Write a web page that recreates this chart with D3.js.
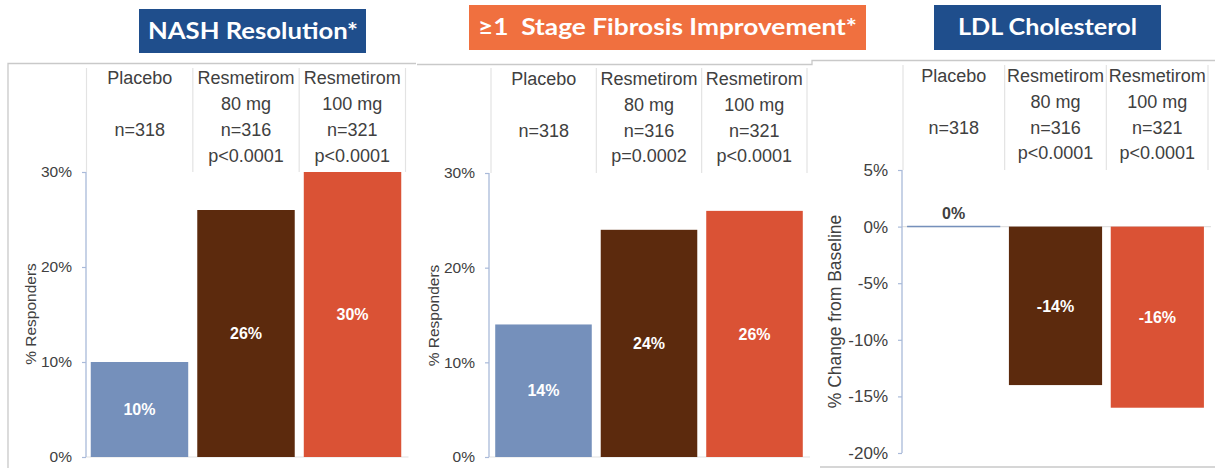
<!DOCTYPE html>
<html>
<head>
<meta charset="utf-8">
<script src="https://cdn.jsdelivr.net/npm/d3@7"></script>
<style>
  body { margin: 0; background: #fff; }
  svg { display: block; }
  text { font-family: "Liberation Sans", Arial, sans-serif; }
</style>
</head>
<body>
<svg id="chart" width="1215" height="468"></svg>
<script>
// Treatment groups shown in every panel
const groupNames = ["Placebo", "Resmetirom", "Resmetirom"];
const groupDoses = ["", "80 mg", "100 mg"];
const groupSizes = ["n=318", "n=316", "n=321"];
const groupColors = ["#7590BB", "#5C2A0D", "#DA5235"];

// NASH resolution (% responders)
const nashValues = [10, 26, 30];
const nashPValues = ["", "p<0.0001", "p<0.0001"];

// ≥1 stage fibrosis improvement (% responders)
const fibrosisValues = [14, 24, 26];
const fibrosisPValues = ["", "p=0.0002", "p<0.0001"];

// LDL cholesterol (% change from baseline)
const ldlValues = [0, -14, -16];
const ldlPValues = ["", "p<0.0001", "p<0.0001"];

// Axis ticks
const responderTicks = [0, 10, 20, 30];
const ldlTicks = [5, 0, -5, -10, -15, -20];

const panelTitles = ["NASH Resolution*", "≥1  Stage Fibrosis Improvement*", "LDL Cholesterol"];
const yTitles = ["% Responders", "% Responders", "% Change from Baseline"];

// Layout of each panel
const panels = [
  {
    values: nashValues, pValues: nashPValues, ticks: responderTicks, domain: [0, 30],
    yRange: [457, 172], band: [86.5, 405.5], axisX: 86,
    header: [68, 172], rows: [77.5, 104, 130, 155.5],
    tickFont: 15.5, yTitleFont: 15.5, yTitlePos: [30, 314],
    box: { x: 139, y: 9, w: 227, h: 44, fill: "#1F4E8C", tx: 253, ty: 39, tl: 210 }
  },
  {
    values: fibrosisValues, pValues: fibrosisPValues, ticks: responderTicks, domain: [0, 30],
    yRange: [457, 173], band: [491, 807], axisX: 489,
    header: [68, 173], rows: [78.5, 105, 131, 156],
    tickFont: 15.5, yTitleFont: 15.5, yTitlePos: [433, 315.5],
    box: { x: 469, y: 5, w: 397, h: 45, fill: "#F0703F", tx: 667.5, ty: 35, tl: 379 }
  },
  {
    values: ldlValues, pValues: ldlPValues, ticks: ldlTicks, domain: [-20, 5],
    yRange: [453, 170], band: [903, 1208], axisX: 902,
    header: [65, 170], rows: [76, 102, 128, 153],
    tickFont: 17, yTitleFont: 17.5, yTitlePos: [835, 311.5],
    box: { x: 934, y: 5, w: 227, h: 45, fill: "#1F4E8C", tx: 1047.5, ty: 35, tl: 179 }
  }
];

const svg = d3.select("#chart");
svg.append("rect").attr("width", 1215).attr("height", 468).attr("fill", "#fff");

// Panel frames
const frameColor = "#C9C9C9";
const frames = svg.append("g").attr("stroke", frameColor).attr("stroke-width", 1.3).attr("fill", "none");
frames.append("path").attr("d", "M8,468V63.5H416");
frames.append("path").attr("d", "M417,64.5H812V60.5H1215");
frames.append("path").attr("d", "M820,467H1215");

const idx = [0, 1, 2];

panels.forEach((p, pi) => {
  const g = svg.append("g");

  // Title banner
  g.append("rect")
    .attr("x", p.box.x).attr("y", p.box.y)
    .attr("width", p.box.w).attr("height", p.box.h)
    .attr("fill", p.box.fill);
  g.append("text")
    .attr("x", p.box.tx).attr("y", p.box.ty)
    .attr("text-anchor", "middle")
    .attr("fill", "#fff")
    .attr("font-weight", "bold")
    .attr("font-size", 23)
    .attr("textLength", p.box.tl)
    .attr("lengthAdjust", "spacingAndGlyphs")
    .style("font-family", "Lato, 'Open Sans', sans-serif")
    .style("white-space", "pre")
    .text(panelTitles[pi]);

  const x = d3.scaleBand().domain(idx).range(p.band).paddingInner(0.085).paddingOuter(0.04);
  const xCol = d3.scaleBand().domain(idx).range(p.band).padding(0);
  const y = d3.scaleLinear().domain(p.domain).range(p.yRange);

  // Header column dividers
  g.append("g").selectAll("line")
    .data([0, 1, 2, 3])
    .join("line")
    .attr("x1", d => d < 3 ? xCol(d) : xCol(2) + xCol.bandwidth())
    .attr("x2", d => d < 3 ? xCol(d) : xCol(2) + xCol.bandwidth())
    .attr("y1", p.header[0]).attr("y2", p.header[1])
    .attr("stroke", "#E3E3E3").attr("stroke-width", 1.2);

  // Header text rows
  const rows = [groupNames, groupDoses, groupSizes, p.pValues];
  rows.forEach((row, ri) => {
    g.append("g").selectAll("text")
      .data(idx)
      .join("text")
      .attr("x", d => xCol(d) + xCol.bandwidth() / 2)
      .attr("y", p.rows[ri])
      .attr("dy", "0.36em")
      .attr("text-anchor", "middle")
      .attr("font-size", 18)
      .attr("fill", "#404040")
      .text(d => row[d]);
  });

  // Zero baseline
  g.append("line")
    .attr("x1", p.axisX).attr("x2", p.band[1] + 3)
    .attr("y1", y(0)).attr("y2", y(0))
    .attr("stroke", "#E2E2E2").attr("stroke-width", 1.2);

  // Bars
  g.append("g").selectAll("rect")
    .data(idx.filter(d => p.values[d] !== 0))
    .join("rect")
    .attr("x", d => x(d))
    .attr("width", x.bandwidth())
    .attr("y", d => y(Math.max(0, p.values[d])))
    .attr("height", d => Math.abs(y(p.values[d]) - y(0)))
    .attr("fill", d => groupColors[d]);

  // Zero-valued groups drawn as a flat line
  g.append("g").selectAll("line")
    .data(idx.filter(d => p.values[d] === 0))
    .join("line")
    .attr("x1", d => x(d)).attr("x2", d => x(d) + x.bandwidth())
    .attr("y1", y(0)).attr("y2", y(0))
    .attr("stroke", d => groupColors[d]).attr("stroke-width", 1.5);

  // Value labels
  g.append("g").selectAll("text")
    .data(idx)
    .join("text")
    .attr("x", d => x(d) + x.bandwidth() / 2)
    .attr("y", d => p.values[d] === 0 ? y(0) - 13 : (y(p.values[d]) + y(0)) / 2)
    .attr("dy", "0.36em")
    .attr("text-anchor", "middle")
    .attr("font-size", 16)
    .attr("font-weight", "bold")
    .attr("fill", d => p.values[d] === 0 ? "#404040" : "#fff")
    .text(d => p.values[d] + "%");

  // Y axis
  const axis = g.append("g")
    .attr("transform", `translate(${p.axisX},0)`)
    .call(d3.axisLeft(y).tickValues(p.ticks).tickSize(4).tickPadding(10).tickFormat(d => d + "%"));
  axis.select(".domain")
    .attr("stroke", "#A9BAD9").attr("stroke-width", 1.3)
    .attr("d", `M0,${p.yRange[1]}V${p.yRange[0]}`);
  axis.selectAll(".tick line").attr("stroke", "#A9BAD9").attr("stroke-width", 1.2);
  axis.selectAll(".tick text")
    .attr("font-size", p.tickFont)
    .attr("fill", "#404040")
    .style("font-family", "'Liberation Sans', Arial, sans-serif");

  // Y axis title
  g.append("text")
    .attr("transform", `translate(${p.yTitlePos[0]},${p.yTitlePos[1]}) rotate(-90)`)
    .attr("text-anchor", "middle")
    .attr("dy", "0.36em")
    .attr("font-size", p.yTitleFont)
    .attr("fill", "#404040")
    .text(yTitles[pi]);
});
</script>
</body>
</html>
